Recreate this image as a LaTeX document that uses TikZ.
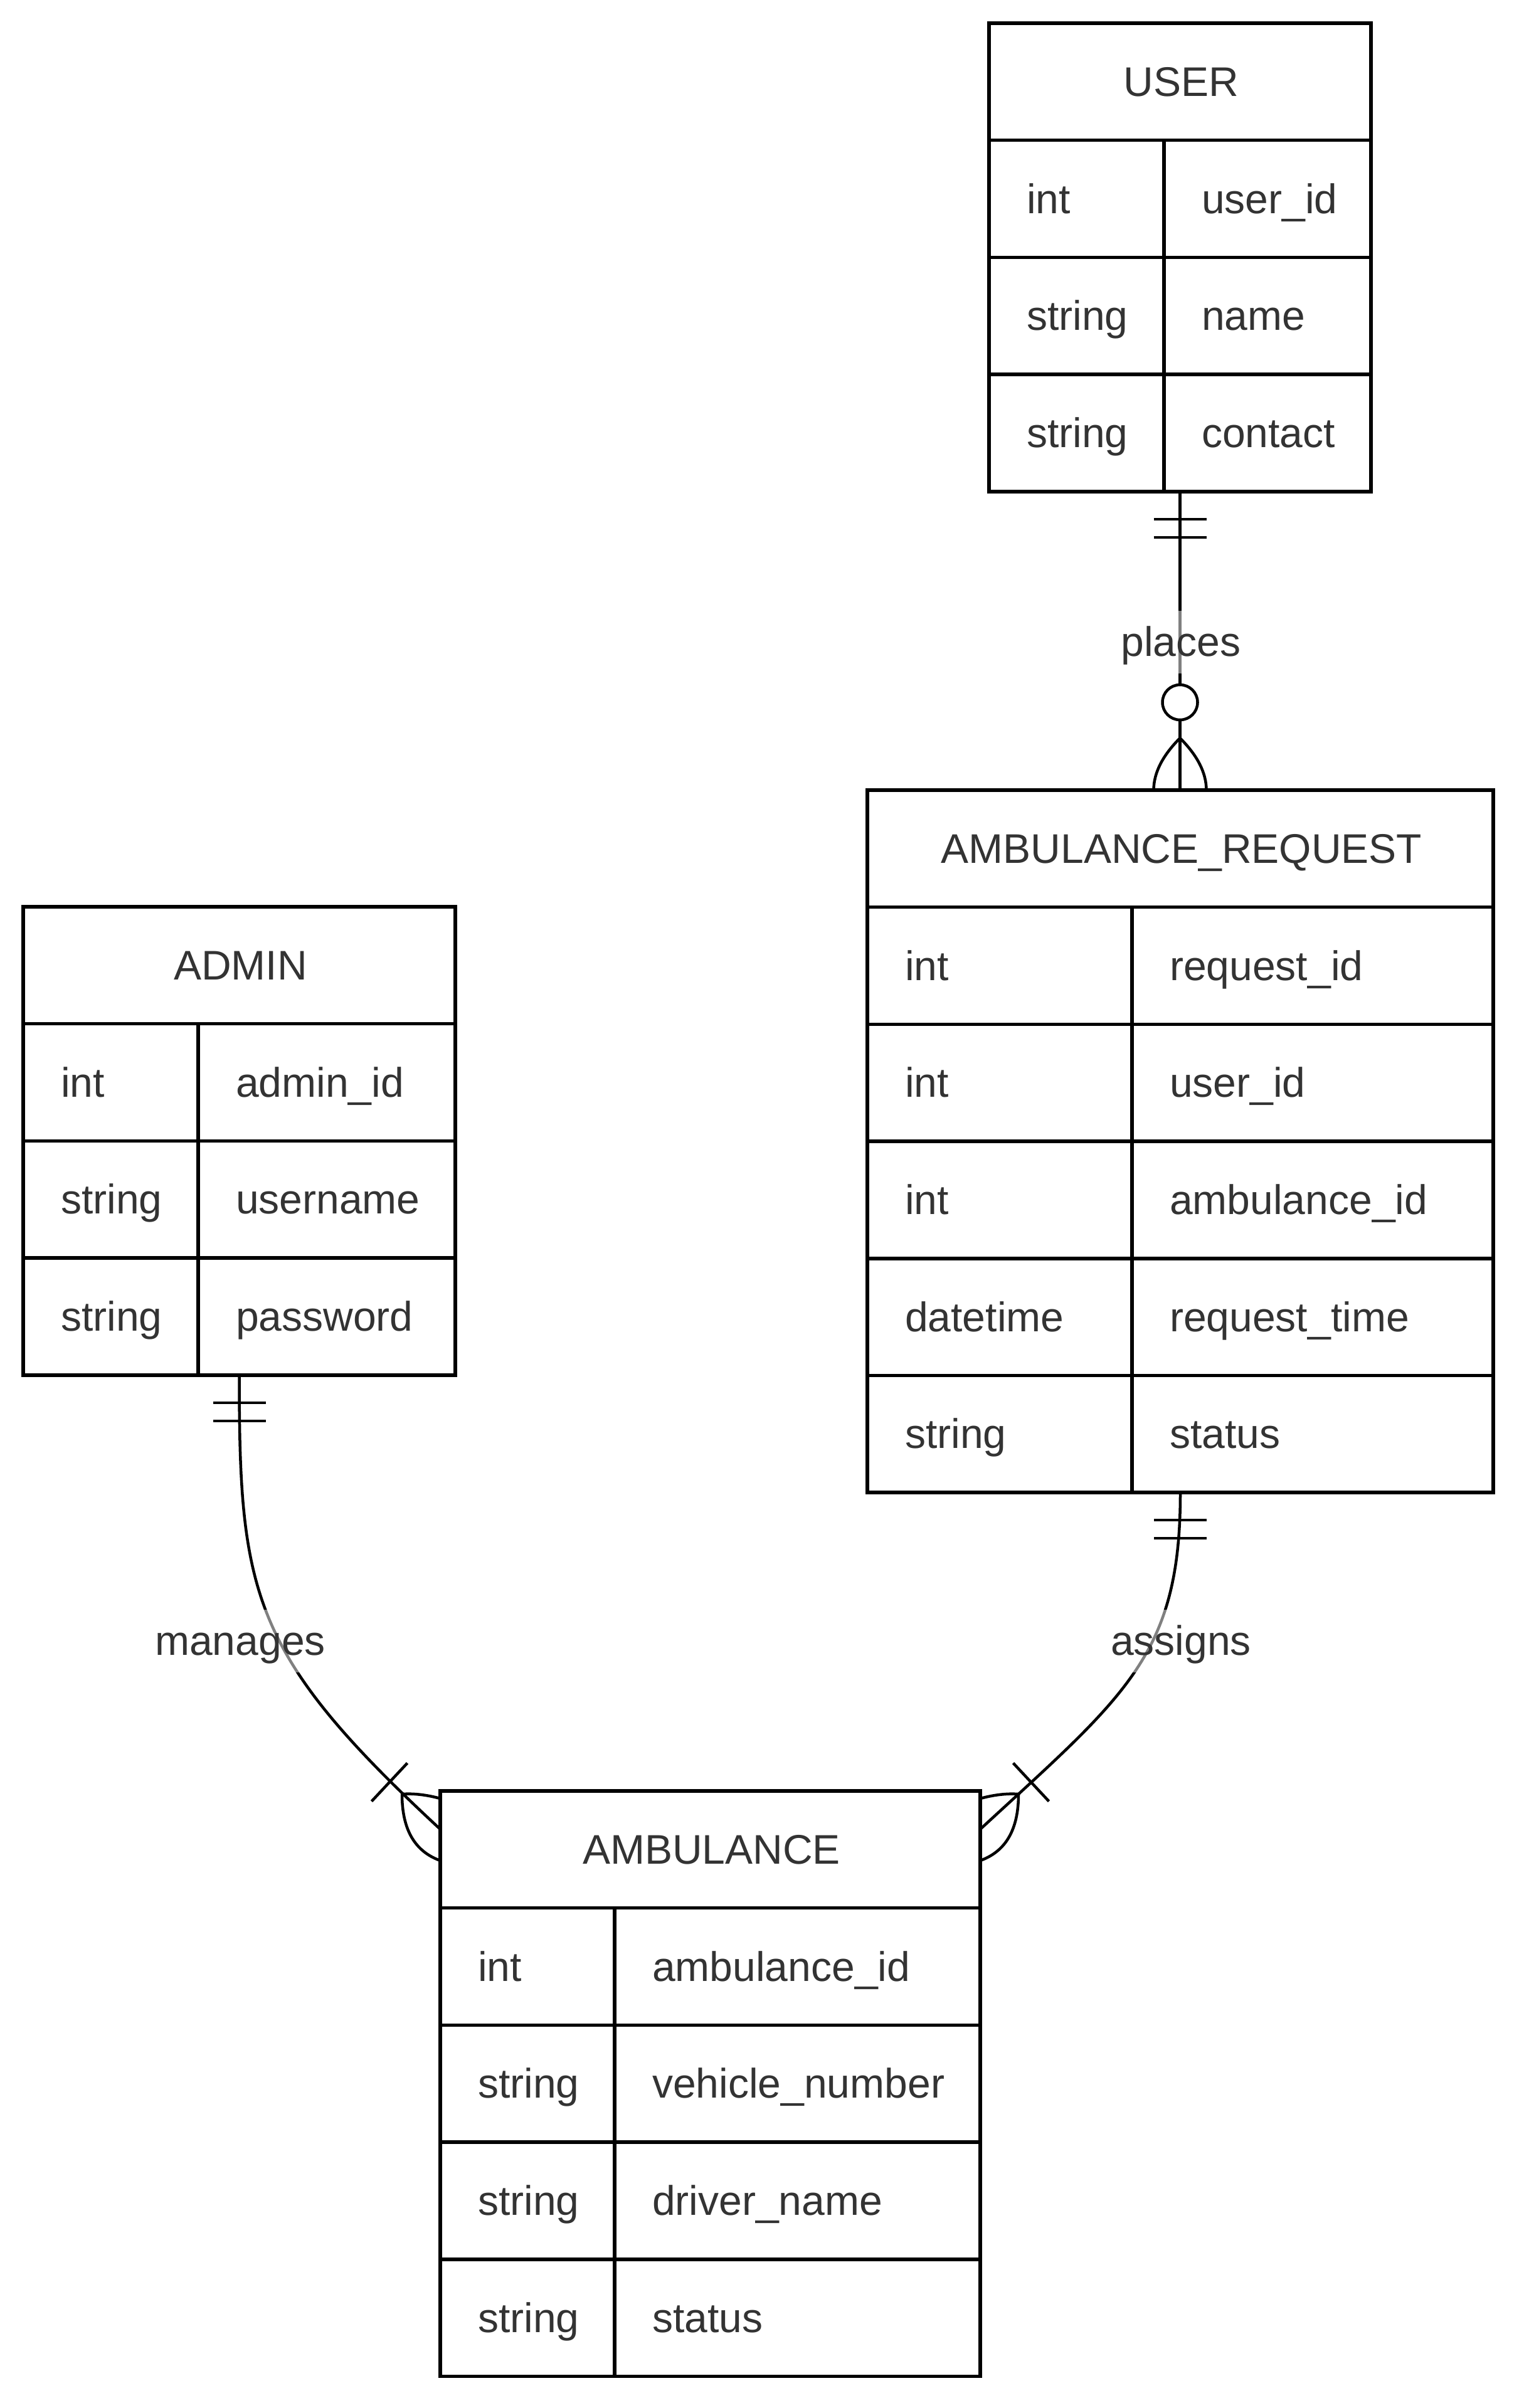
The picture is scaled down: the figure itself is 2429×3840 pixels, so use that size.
\documentclass[tikz,border=0pt]{standalone}
\usepackage{fontspec}
\setmainfont{Liberation Sans}
\usetikzlibrary{calc}
\definecolor{txt}{HTML}{333333}
\newcommand\efont{\fontsize{66}{79}\selectfont}
\tikzset{
  ebox/.style={draw=black, line width=5.5pt, fill=white, inner sep=0pt, outer sep=0pt, anchor=north west},
  eline/.style={draw=black, line width=5.5pt},
  etitle/.style={text=txt, anchor=base, inner sep=0pt, font=\efont},
  ecell/.style={text=txt, anchor=base west, inner sep=0pt, font=\efont},
  rel/.style={draw=black, line width=4.5pt},
  rlabel/.style={text=txt, font=\efont, fill=white, fill opacity=0.5, text opacity=1,
    inner xsep=2pt, inner ysep=14pt, text height=58pt, text depth=14pt},
  zcircle/.style={circle, draw=black, line width=4.5pt, fill=white, minimum size=56pt, inner sep=0pt},
}
% #1 name, #2 x, #3 y, #4 width, #5 divider x, #6 title, #7 rows, #8 number of rows
\newcommand\entity[8]{%
  \pgfmathsetmacro\eH{(#8+1)*186.7}
  \node[ebox, minimum width=#4pt, minimum height=\eH pt] (#1) at (#2,#3) {};
  \node[etitle] (#1-title) at (#2+#4/2+2, #3+116.35) {#6};
  \foreach \ty/\nm [count=\i] in {#7} {
    \draw[eline] (#2, #3+\i*186.7) -- (#2+#4, #3+\i*186.7);
    \node[ecell] (#1-type\i) at (#2+60, #3+\i*186.7+116.35) {\ty};
    \node[ecell] (#1-name\i) at (#5+60, #3+\i*186.7+116.35) {\nm};
  }
  \draw[eline] (#5, #3+186.7) -- (#5, #3+\eH);
}
\begin{document}
\begin{tikzpicture}[x=1pt, y=-1pt]
  \fill[white] (0,0) rectangle (2429,3840);
  \useasboundingbox (0,0) rectangle (2429,3840);

  \entity{user}{1577}{37}{609}{1856}{USER}{int/user\_id,string/name,string/contact}{3}
  \entity{req}{1383}{1260}{998}{1805}{AMBULANCE\_REQUEST}{int/request\_id,int/user\_id,int/ambulance\_id,datetime/request\_time,string/status}{5}
  \entity{admin}{37}{1446}{689}{316}{ADMIN}{int/admin\_id,string/username,string/password}{3}
  \entity{amb}{702}{2856}{861}{980}{AMBULANCE}{int/ambulance\_id,string/vehicle\_number,string/driver\_name,string/status}{4}

  \coordinate (reqtop) at (user.south |- req.north);
  \coordinate (ambL) at ([yshift=-61pt]amb.north west);
  \coordinate (ambR) at ([yshift=-61pt]amb.north east);

  % USER places AMBULANCE_REQUEST
  \draw[rel] (user.south) -- (reqtop);
  \draw[rel] ([xshift=-42pt,yshift=-44pt]user.south) -- ([xshift=42pt,yshift=-44pt]user.south);
  \draw[rel] ([xshift=-42pt,yshift=-73pt]user.south) -- ([xshift=42pt,yshift=-73pt]user.south);
  \node[zcircle] (zc) at ([yshift=140pt]reqtop) {};
  \coordinate (crowA) at ([yshift=83pt]reqtop);
  \draw[rel] (crowA) .. controls ($(crowA)+(-28pt,-28pt)$) and ($(reqtop)+(-42pt,27.3pt)$) .. ($(reqtop)+(-42pt,0pt)$);
  \draw[rel] (crowA) .. controls ($(crowA)+(28pt,-28pt)$) and ($(reqtop)+(42pt,27.3pt)$) .. ($(reqtop)+(42pt,0pt)$);

  % ADMIN manages AMBULANCE
  \draw[rel] (admin.south) .. controls (381.5,2542) and (401,2638) .. (ambL);
  \draw[rel] ([yshift=-44pt,xshift=-42pt]admin.south) -- ([yshift=-44pt,xshift=42pt]admin.south);
  \draw[rel] ([yshift=-73pt,xshift=-42pt]admin.south) -- ([yshift=-73pt,xshift=42pt]admin.south);
  \draw[rel] (592.5,2872.5) -- (649.5,2811.5);
  \draw[rel] (641,2861) .. controls (659.7,2859.7) and (679.7,2862) .. (702,2868);
  \draw[rel] (641,2861) .. controls (641,2917) and (661,2952.3) .. (702,2967);

  % AMBULANCE_REQUEST assigns AMBULANCE
  \draw[rel] (req.south) .. controls (1882,2640) and (1795,2703) .. (ambR);
  \draw[rel] ([yshift=-44pt,xshift=-42pt]req.south) -- ([yshift=-44pt,xshift=42pt]req.south);
  \draw[rel] ([yshift=-73pt,xshift=-42pt]req.south) -- ([yshift=-73pt,xshift=42pt]req.south);
  \draw[rel] (1615.5,2811.5) -- (1672.5,2872.5);
  \draw[rel] (1624,2861) .. controls (1605.3,2859.7) and (1585.3,2862) .. (1563,2868);
  \draw[rel] (1624,2861) .. controls (1624,2917) and (1604,2952.3) .. (1563,2967);

  % labels
  \node[rlabel] (lplaces) at (1883,1024) {places};
  \node[rlabel] (lmanages) at (383,2617) {manages};
  \node[rlabel] (lassigns) at (1883,2617) {assigns};
\end{tikzpicture}
\end{document}
